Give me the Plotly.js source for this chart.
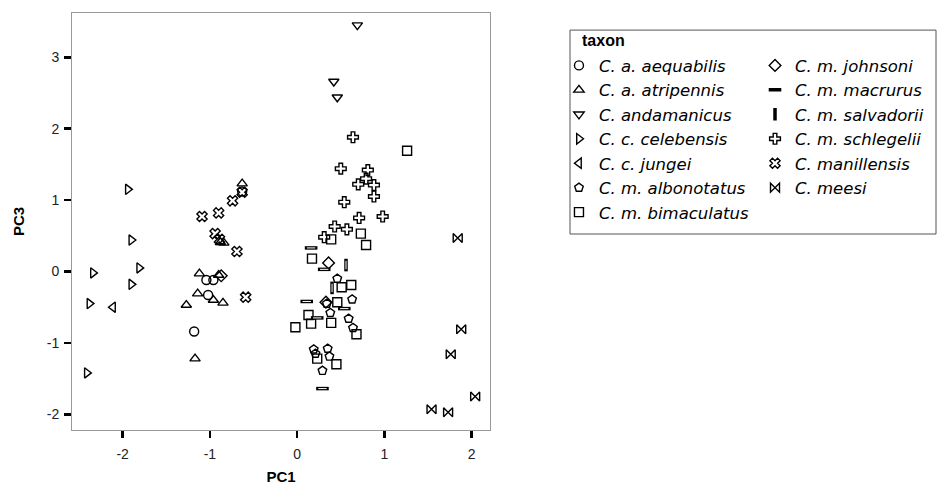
<!DOCTYPE html>
<html>
<head>
<meta charset="utf-8">
<script src="https://cdn.plot.ly/plotly-3.0.1.min.js"></script>
<style>html,body{margin:0;padding:0;background:#fff;}#chart{width:946px;height:497px;}</style>
</head>
<body>
<div id="chart"></div>
<script>
// ---- data (PC1 = x, PC3 = y) ----
const aequabilisX = [-1.04, -0.96, -1.02, -1.18, -0.63];
const aequabilisY = [-0.12, -0.12, -0.33, -0.84, 1.12];

const atripennisX = [-0.63, -1.12, -0.90, -1.14, -0.96, -0.85, -1.27, -1.17, -0.88, -0.84];
const atripennisY = [1.23, -0.03, -0.05, -0.31, -0.40, -0.44, -0.47, -1.22, 0.41, 0.40];

const andamanicusX = [0.69, 0.42, 0.46];
const andamanicusY = [3.45, 2.66, 2.44];

const celebensisX = [-1.94, -1.90, -1.81, -2.34, -1.90, -2.38, -2.41];
const celebensisY = [1.15, 0.44, 0.05, -0.02, -0.18, -0.45, -1.42];

const jungeiX = [-2.11];
const jungeiY = [-0.50];

const albonotatusX = [0.46, 0.63, 0.38, 0.59, 0.64, 0.19, 0.21, 0.35, 0.37, 0.29, 0.34];
const albonotatusY = [-0.10, -0.39, -0.58, -0.66, -0.79, -1.09, -1.15, -1.08, -1.19, -1.39, -0.45];

const bimaculatusX = [1.26, 0.39, 0.73, 0.79, 0.17, 0.51, 0.62, 0.46, 0.13, -0.02, 0.16, 0.39, 0.68, 0.23, 0.45];
const bimaculatusY = [1.69, 0.45, 0.53, 0.37, 0.18, -0.22, -0.19, -0.43, -0.61, -0.78, -0.73, -0.72, -0.88, -1.22, -1.30];

const johnsoniX = [0.36, 0.33, -0.87];
const johnsoniY = [0.12, -0.43, -0.06];

const macrurusX = [0.16, 0.31, 0.11, 0.54, 0.23, 0.29];
const macrurusY = [0.33, 0.03, -0.42, -0.52, -0.65, -1.64];

const salvadoriiX = [0.56, 0.40];
const salvadoriiY = [0.09, -0.23];

const schlegeliiX = [0.64, 0.50, 0.81, 0.79, 0.70, 0.88, 0.88, 0.54, 0.71, 0.98, 0.43, 0.57, 0.31];
const schlegeliiY = [1.88, 1.44, 1.42, 1.30, 1.22, 1.21, 1.05, 0.97, 0.75, 0.77, 0.63, 0.59, 0.48];

const manillensisX = [-0.63, -0.74, -1.09, -0.90, -0.94, -0.89, -0.69, -0.59];
const manillensisY = [1.11, 0.99, 0.77, 0.82, 0.53, 0.45, 0.28, -0.36];

const meesiX = [1.84, 1.88, 1.76, 2.04, 1.54, 1.73];
const meesiY = [0.47, -0.81, -1.16, -1.75, -1.93, -1.97];

const xTicks = [-2, -1, 0, 1, 2];
const yTicks = [-2, -1, 0, 1, 2, 3];
const legendTitle = 'taxon';

// ---- traces ----
function mk(name, x, y, symbol, legend, extra) {
  const m = Object.assign({symbol: symbol, size: 9, color: '#000',
    line: {color: '#000', width: 1.4}}, extra || {});
  return {type: 'scatter', mode: 'markers', name: name, x: x, y: y,
    marker: m, legend: legend, hoverinfo: 'x+y+name'};
}
// white inner stroke to make the thin bar markers look hollow
function inner(x, y, symbol) {
  return {type: 'scatter', mode: 'markers', x: x, y: y, showlegend: false, hoverinfo: 'skip',
    marker: {symbol: symbol, size: 6, color: '#fff', line: {color: '#fff', width: 1}}};
}

const traces = [
  mk('C. a. aequabilis', aequabilisX, aequabilisY, 'circle-open', 'legend'),
  mk('C. a. atripennis', atripennisX, atripennisY, 'triangle-up-open', 'legend'),
  mk('C. andamanicus', andamanicusX, andamanicusY, 'triangle-down-open', 'legend'),
  mk('C. c. celebensis', celebensisX, celebensisY, 'triangle-right-open', 'legend'),
  mk('C. c. jungei', jungeiX, jungeiY, 'triangle-left-open', 'legend'),
  mk('C. m. albonotatus', albonotatusX, albonotatusY, 'pentagon-open', 'legend'),
  mk('C. m. bimaculatus', bimaculatusX, bimaculatusY, 'square-open', 'legend'),
  mk('C. m. johnsoni', johnsoniX, johnsoniY, 'diamond-open', 'legend2'),
  mk('C. m. macrurus', macrurusX, macrurusY, 'line-ew-open', 'legend2', {size: 9, line: {color: '#000', width: 3.5}}),
  inner(macrurusX, macrurusY, 'line-ew-open'),
  mk('C. m. salvadorii', salvadoriiX, salvadoriiY, 'line-ns-open', 'legend2', {size: 9, line: {color: '#000', width: 3.5}}),
  inner(salvadoriiX, salvadoriiY, 'line-ns-open'),
  mk('C. m. schlegelii', schlegeliiX, schlegeliiY, 'cross-open', 'legend2'),
  mk('C. manillensis', manillensisX, manillensisY, 'x-open', 'legend2'),
  mk('C. meesi', meesiX, meesiY, 'bowtie-open', 'legend2')
];

const FAM = 'DejaVu Sans, Liberation Sans, Arial, sans-serif';
const tickFont = {family: 'Liberation Sans, Arial, sans-serif', size: 14, color: '#222'};
const titleFont = {family: 'Liberation Sans, Arial, sans-serif', size: 15, color: '#000', weight: 'bold'};
const legFont = {family: FAM, size: 16.5, color: '#000', style: 'italic'};

const layout = {
  width: 946, height: 497,
  margin: {l: 72, r: 456, t: 13, b: 67, pad: 0},
  paper_bgcolor: '#fff', plot_bgcolor: '#fff',
  showlegend: true,
  xaxis: {
    range: [-2.58, 2.21], tickvals: xTicks, ticktext: xTicks.map(String),
    showgrid: false, zeroline: false,
    showline: true, linecolor: '#999', linewidth: 1, mirror: true,
    ticks: 'outside', ticklen: 7, tickwidth: 2.5, tickcolor: '#000',
    tickfont: tickFont, ticklabelstandoff: 4,
    title: {text: 'PC1', font: titleFont, standoff: 10}
  },
  yaxis: {
    range: [-2.22, 3.62], tickvals: yTicks, ticktext: yTicks.map(String),
    showgrid: false, zeroline: false,
    showline: true, linecolor: '#999', linewidth: 1, mirror: true,
    ticks: 'outside', ticklen: 7, tickwidth: 2.5, tickcolor: '#000',
    tickfont: tickFont, ticklabelstandoff: 2,
    title: {text: 'PC3', font: titleFont, standoff: 18}
  },
  legend: {
    x: 1.165, y: 0.9156, xanchor: 'left', yanchor: 'top',
    bgcolor: 'rgba(0,0,0,0)', borderwidth: 0,
    font: legFont, tracegroupgap: 0, itemclick: false
  },
  legend2: {
    x: 1.634, y: 0.9156, xanchor: 'left', yanchor: 'top',
    bgcolor: 'rgba(0,0,0,0)', borderwidth: 0,
    font: legFont, tracegroupgap: 0, itemclick: false
  },
  annotations: [{
    text: '<b>' + legendTitle + '</b>', xref: 'paper', yref: 'paper',
    x: 1.215, y: 0.935, xanchor: 'left', yanchor: 'middle', showarrow: false,
    font: {family: 'Liberation Sans, Arial, sans-serif', size: 16, color: '#000'}
  }],
  shapes: [{
    type: 'rect', xref: 'paper', yref: 'paper',
    x0: 1.1914, x1: 2.067, y0: 0.470, y1: 0.959,
    line: {color: '#555', width: 1}, fillcolor: 'rgba(0,0,0,0)'
  }]
};

Plotly.newPlot('chart', traces, layout, {displayModeBar: false, staticPlot: true});
</script>
</body>
</html>
